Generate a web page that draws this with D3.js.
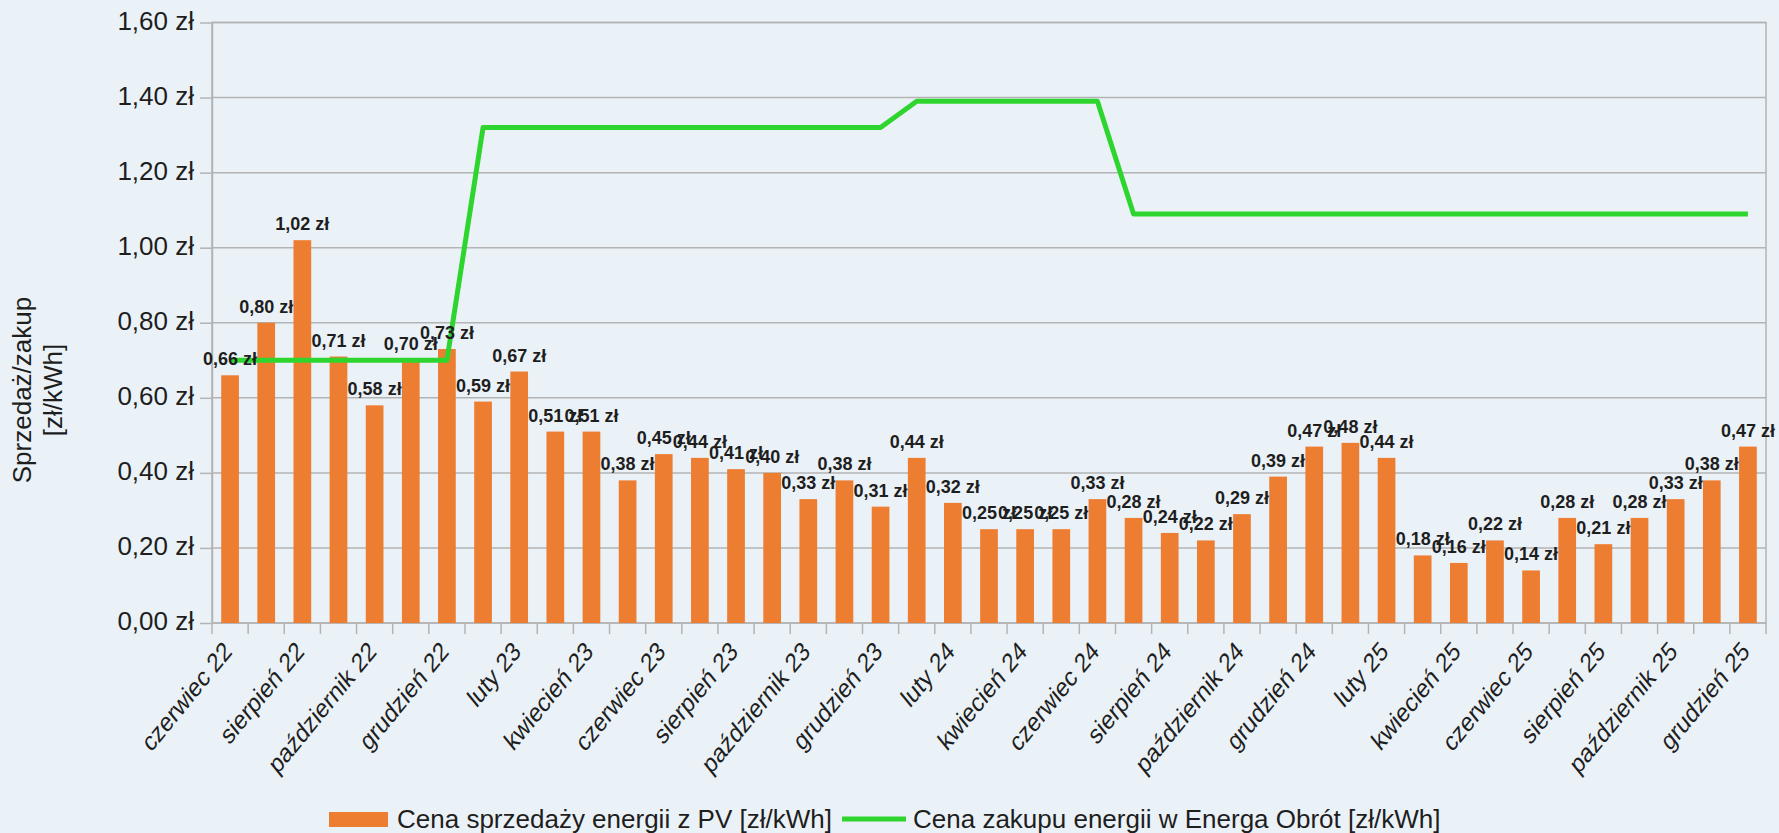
<!DOCTYPE html>
<html>
<head>
<meta charset="utf-8">
<script src="https://cdn.jsdelivr.net/npm/d3@7"></script>
<style>
  html, body { margin: 0; padding: 0; background: #ebf2f7; }
  svg { display: block; font-family: "Liberation Sans", Arial, sans-serif; }
</style>
</head>
<body>
<div id="chart"></div>
<script>
// months on the x axis
var months = [
  "czerwiec 22", "lipiec 22", "sierpień 22", "wrzesień 22", "październik 22", "listopad 22", "grudzień 22",
  "styczeń 23", "luty 23", "marzec 23", "kwiecień 23", "maj 23", "czerwiec 23", "lipiec 23",
  "sierpień 23", "wrzesień 23", "październik 23", "listopad 23", "grudzień 23",
  "styczeń 24", "luty 24", "marzec 24", "kwiecień 24", "maj 24", "czerwiec 24", "lipiec 24",
  "sierpień 24", "wrzesień 24", "październik 24", "listopad 24", "grudzień 24",
  "styczeń 25", "luty 25", "marzec 25", "kwiecień 25", "maj 25", "czerwiec 25", "lipiec 25",
  "sierpień 25", "wrzesień 25", "październik 25", "listopad 25", "grudzień 25"
];

// sale price of PV energy (bars)
var sellPrice = [
  0.66, 0.80, 1.02, 0.71, 0.58, 0.70, 0.73,
  0.59, 0.67, 0.51, 0.51, 0.38, 0.45, 0.44, 0.41, 0.40, 0.33, 0.38, 0.31,
  0.44, 0.32, 0.25, 0.25, 0.25, 0.33, 0.28, 0.24, 0.22, 0.29, 0.39, 0.47,
  0.48, 0.44, 0.18, 0.16, 0.22, 0.14, 0.28, 0.21, 0.28, 0.33, 0.38, 0.47
];

// purchase price in Energa Obrót (line)
var buyPrice = [
  0.70, 0.70, 0.70, 0.70, 0.70, 0.70, 0.70,
  1.32, 1.32, 1.32, 1.32, 1.32, 1.32, 1.32, 1.32, 1.32, 1.32, 1.32, 1.32,
  1.39, 1.39, 1.39, 1.39, 1.39, 1.39, 1.09, 1.09, 1.09, 1.09, 1.09, 1.09,
  1.09, 1.09, 1.09, 1.09, 1.09, 1.09, 1.09, 1.09, 1.09, 1.09, 1.09, 1.09
];

var yTicks = [0, 0.2, 0.4, 0.6, 0.8, 1.0, 1.2, 1.4, 1.6];

var seriesNames = ["Cena sprzedaży energii z PV [zł/kWh]", "Cena zakupu energii w Energa Obrót [zł/kWh]"];

var width = 1779, height = 833;
var plot = {left: 212, right: 1766, top: 22.5, bottom: 623};
var barColor = "#ed7d31", lineColor = "#2fd52f", gridColor = "#b3b3b3", textColor = "#1e1e1e";

var pl = d3.formatLocale({decimal: ",", thousands: " ", grouping: [3], currency: ["", " zł"]});
var zl = pl.format("$.2f");

var svg = d3.select("#chart")
  .append("svg")
    .attr("width", width)
    .attr("height", height);

svg.append("rect")
  .attr("width", width)
  .attr("height", height)
  .attr("fill", "#ebf2f7");

// scales: one slot per month, bar takes the middle half
var x = d3.scaleBand()
  .domain(months)
  .range([plot.left, plot.right]);

var y = d3.scaleLinear()
  .domain([0, 1.6])
  .range([plot.bottom, plot.top]);

// gridlines
svg.append("g")
  .selectAll("line")
  .data(yTicks)
  .enter()
  .append("line")
    .attr("x1", plot.left)
    .attr("x2", plot.right)
    .attr("y1", function(d){ return y(d); })
    .attr("y2", function(d){ return y(d); })
    .attr("stroke", gridColor)
    .attr("stroke-width", 1.5);

// frame
svg.append("rect")
  .attr("x", plot.left)
  .attr("y", y(1.6))
  .attr("width", plot.right - plot.left)
  .attr("height", y(0) - y(1.6))
  .attr("fill", "none")
  .attr("stroke", gridColor)
  .attr("stroke-width", 1.5);

// y axis
var yAxis = svg.append("g")
  .attr("transform", "translate(" + plot.left + ",0)")
  .call(d3.axisLeft(y).tickValues(yTicks).tickFormat(zl).tickSizeInner(12).tickSizeOuter(0).tickPadding(6));
yAxis.select(".domain").attr("stroke", gridColor).attr("stroke-width", 1.5);
yAxis.selectAll(".tick line").attr("stroke", gridColor).attr("stroke-width", 1.5);
yAxis.selectAll(".tick text")
  .attr("font-size", "26px")
  .attr("font-family", "Liberation Sans, Arial, sans-serif")
  .attr("fill", textColor)
  .attr("dy", "0.25em");

// x axis: tick marks on slot boundaries
var xTickPos = months.map(function(m){ return x(m); }).concat([plot.right]);
svg.append("g")
  .selectAll("line")
  .data(xTickPos)
  .enter()
  .append("line")
    .attr("x1", function(d){ return d; })
    .attr("x2", function(d){ return d; })
    .attr("y1", plot.bottom)
    .attr("y2", plot.bottom + 11)
    .attr("stroke", gridColor)
    .attr("stroke-width", 1.5);

// x labels, every second month, rotated (slightly stretched like the original)
var xAxis = svg.append("g")
  .attr("transform", "translate(0," + plot.bottom + ")")
  .call(d3.axisBottom(x).tickValues(months.filter(function(d, i){ return i % 2 == 0; })).tickSize(0));
xAxis.select(".domain").remove();
xAxis.selectAll(".tick text")
  .attr("font-size", "22px")
  .attr("font-family", "Liberation Sans, Arial, sans-serif")
  .attr("fill", textColor)
  .attr("text-anchor", "end")
  .attr("dy", 0)
  .attr("y", 0)
  .attr("transform", "translate(3,30) scale(1,1.22) rotate(-45)");

// bars
svg.append("g")
  .selectAll("rect")
  .data(sellPrice)
  .enter()
  .append("rect")
    .attr("x", function(d, i){ return x(months[i]) + x.bandwidth() * 0.255; })
    .attr("y", function(d){ return y(d); })
    .attr("width", x.bandwidth() * 0.49)
    .attr("height", function(d){ return y(0) - y(d); })
    .attr("fill", barColor);

// purchase price line
var line = d3.line()
  .x(function(d, i){ return x(months[i]) + x.bandwidth() / 2; })
  .y(function(d){ return y(d); });

svg.append("path")
  .datum(buyPrice)
  .attr("d", line)
  .attr("fill", "none")
  .attr("stroke", lineColor)
  .attr("stroke-width", 5)
  .attr("stroke-linejoin", "round");

// value labels above bars
svg.append("g")
  .selectAll("text")
  .data(sellPrice)
  .enter()
  .append("text")
    .attr("x", function(d, i){ return x(months[i]) + x.bandwidth() / 2; })
    .attr("y", function(d){ return y(d) - 10; })
    .attr("text-anchor", "middle")
    .attr("font-size", "18px")
    .attr("font-weight", "bold")
    .attr("fill", textColor)
    .text(function(d){ return zl(d); });

// y axis title
var yTitle = svg.append("text")
  .attr("transform", "translate(31,390) rotate(-90)")
  .attr("text-anchor", "middle")
  .attr("font-size", "26px")
  .attr("fill", textColor);
yTitle.append("tspan").attr("x", 0).attr("dy", 0).text("Sprzedaż/zakup");
yTitle.append("tspan").attr("x", 0).attr("dy", "1.18em").text("[zł/kWh]");

// legend
var legend = svg.append("g");
legend.append("rect")
  .attr("x", 329).attr("y", 812)
  .attr("width", 59).attr("height", 15)
  .attr("fill", barColor);
legend.append("text")
  .attr("x", 397).attr("y", 828)
  .attr("font-size", "26px")
  .attr("fill", textColor)
  .text(seriesNames[0]);
legend.append("line")
  .attr("x1", 842).attr("x2", 906)
  .attr("y1", 819).attr("y2", 819)
  .attr("stroke", lineColor)
  .attr("stroke-width", 5);
legend.append("text")
  .attr("x", 913).attr("y", 828)
  .attr("font-size", "26px")
  .attr("fill", textColor)
  .text(seriesNames[1]);
</script>
</body>
</html>
